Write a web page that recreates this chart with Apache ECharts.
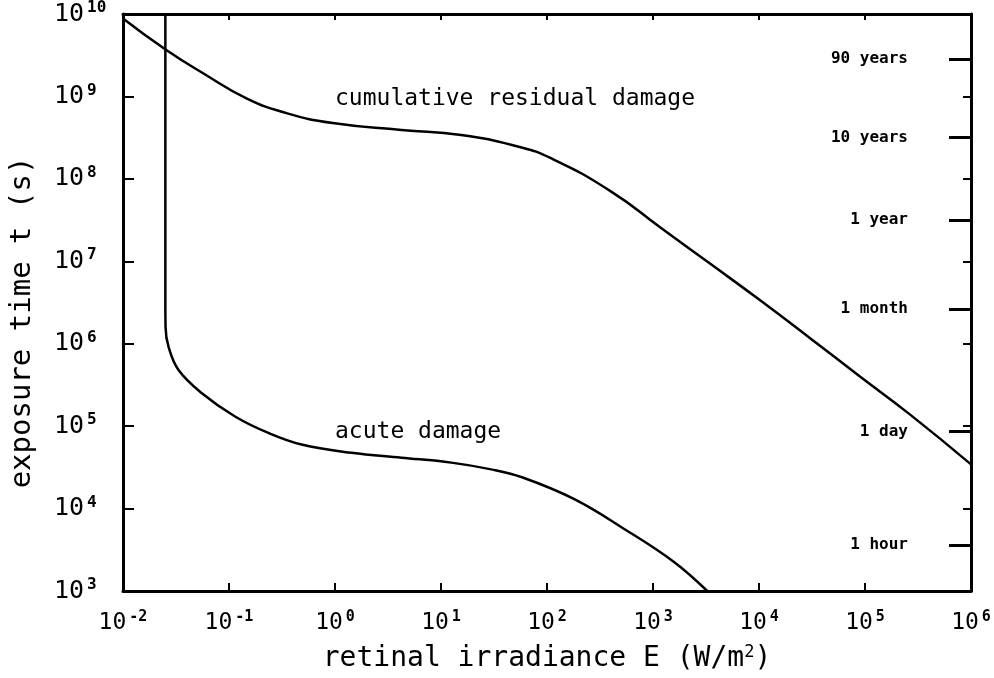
<!DOCTYPE html>
<html><head><meta charset="utf-8">
<script src="https://cdn.jsdelivr.net/npm/echarts@6/dist/echarts.min.js"></script>
<style>html,body{margin:0;padding:0;background:#fff}#c{width:994px;height:678px}</style>
</head><body><div id="c"></div>
<script>
// cumulative residual damage curve: irradiance E (W/m^2) and exposure time t (s)
const cumE = [0.01, 0.0252, 0.057, 0.146, 0.348, 0.953, 4.23, 15.5, 53, 109, 400, 1183, 3500, 10330, 30550, 90200, 266700, 1000000];
const cumT = [8.83e9, 3.71e9, 1.91e9, 9.5e8, 6.28e8, 4.75e8, 3.92e8, 3.41e8, 2.47e8, 1.78e8, 7.06e7, 2.55e7, 9.25e6, 3.34e6, 1.16e6, 3.98e5, 1.38e5, 3.44e4];
// acute damage curve
const acuteE = [0.0251, 0.0251, 0.0252, 0.0269, 0.0334, 0.0555, 0.114, 0.235, 0.484, 1.43, 4.23, 12.5, 29.7, 59, 181, 535, 1578, 3250];
const acuteT = [1e10, 3.34e6, 1.59e6, 9.14e5, 4.8e5, 2.51e5, 1.31e5, 8.28e4, 5.98e4, 4.75e4, 4.14e4, 3.61e4, 2.99e4, 2.38e4, 1.3e4, 5.66e3, 2.25e3, 1e3];
// right-hand time scale
const timeNames = ['90 years', '10 years', '1 year', '1 month', '1 day', '1 hour'];
const timeSeconds = [2.84e9, 3.156e8, 3.156e7, 2.63e6, 86400, 3600];
// curve annotations
const annoText = ['cumulative residual damage', 'acute damage'];
const annoE = [1, 1];
const annoT = [9.3e8, 8.6e4];

const MONO = '"DejaVu Sans Mono", "Liberation Mono", monospace';
const black = '#000';
const supFmt = v => {
  const e = Math.round(Math.log10(v));
  return '{b|10}{s|' + e + '}';
};
const frameLine = {show: true, lineStyle: {color: black, width: 3}};

const chart = echarts.init(document.getElementById('c'), null, {renderer: 'canvas'});
chart.setOption({
  animation: false,
  backgroundColor: '#fff',
  grid: {left: 121, right: 23, top: 12, bottom: 85, containLabel: false},
  xAxis: [
    {
      type: 'log', logBase: 10, min: 0.01, max: 1e6, position: 'bottom',
      axisLine: frameLine,
      axisTick: {show: true, inside: true, length: 8, lineStyle: {color: black, width: 2}},
      minorTick: {show: false}, splitLine: {show: false},
      axisLabel: {
        formatter: supFmt, margin: 19, color: black,
        rich: {
          b: {fontFamily: MONO, fontSize: 23, color: black, lineHeight: 26},
          s: {fontFamily: MONO, fontSize: 15, color: black, fontWeight: 'bold', verticalAlign: 'top', lineHeight: 15, padding: [0, 0, 0, 3]}
        }
      },
      name: '{t|retinal irradiance E (W/m}{s|2}{t|)}',
      nameLocation: 'middle', nameGap: 53,
      nameTextStyle: {
        rich: {
          t: {fontFamily: MONO, fontSize: 28, color: black, lineHeight: 30},
          s: {fontFamily: MONO, fontSize: 17, color: black, verticalAlign: 'top', lineHeight: 16}
        }
      }
    },
    {
      type: 'log', logBase: 10, min: 0.01, max: 1e6, position: 'top',
      axisLine: frameLine,
      axisTick: {show: true, inside: true, length: 6, lineStyle: {color: black, width: 2}},
      minorTick: {show: false}, splitLine: {show: false},
      axisLabel: {show: false}
    }
  ],
  yAxis: [
    {
      type: 'log', logBase: 10, min: 1e3, max: 1e10, position: 'left',
      axisLine: frameLine,
      axisTick: {show: true, inside: true, length: 11, lineStyle: {color: black, width: 2}},
      minorTick: {show: false}, splitLine: {show: false},
      axisLabel: {
        formatter: supFmt, margin: 69, align: 'left', color: black,
        rich: {
          b: {fontFamily: MONO, fontSize: 25, color: black, lineHeight: 28},
          s: {fontFamily: MONO, fontSize: 16, color: black, fontWeight: 'bold', verticalAlign: 'top', lineHeight: 16, padding: [0, 0, 0, 3]}
        }
      },
      name: 'exposure time t (s)',
      nameLocation: 'middle', nameGap: 86, nameRotate: 90,
      nameTextStyle: {fontFamily: MONO, fontSize: 29, color: black, padding: [0, 40, 0, 0]}
    },
    {
      type: 'log', logBase: 10, min: 1e3, max: 1e10, position: 'right',
      axisLine: frameLine,
      axisTick: {show: true, inside: true, length: 8, lineStyle: {color: black, width: 2}},
      minorTick: {show: false}, splitLine: {show: false},
      axisLabel: {show: false}
    },
    {
      type: 'value', min: 3, max: 10, position: 'right',
      axisLine: {show: false},
      splitLine: {show: false},
      axisTick: {show: true, inside: true, length: 22, lineStyle: {color: black, width: 3},
        customValues: timeSeconds.map(s => Math.log10(s))},
      axisLabel: {
        show: true, inside: true, margin: 63, color: black,
        fontFamily: MONO, fontSize: 16, fontWeight: 'bold',
        customValues: timeSeconds.map(s => Math.log10(s)),
        formatter: v => {
          let best = 0, bd = Infinity;
          timeSeconds.forEach((s, i) => { const d = Math.abs(Math.log10(s) - v); if (d < bd) { bd = d; best = i; } });
          return timeNames[best];
        }
      }
    }
  ],
  series: [
    {
      type: 'line', xAxisIndex: 0, yAxisIndex: 0,
      data: cumE.map((e, i) => [e, cumT[i]]),
      showSymbol: false, smooth: 0.5,
      lineStyle: {color: black, width: 2.5}
    },
    {
      type: 'line', xAxisIndex: 0, yAxisIndex: 0,
      data: acuteE.map((e, i) => [e, acuteT[i]]),
      showSymbol: false, smooth: 0.4,
      lineStyle: {color: black, width: 2.5}
    },
    {
      type: 'scatter', xAxisIndex: 0, yAxisIndex: 0,
      data: annoText.map((t, i) => ({name: t, value: [annoE[i], annoT[i]]})),
      symbolSize: 0, silent: true,
      label: {show: true, position: 'right', distance: 0, formatter: '{b}',
        fontFamily: MONO, fontSize: 23, color: black, opacity: 1}
    }
  ]
});
</script>
</body></html>
